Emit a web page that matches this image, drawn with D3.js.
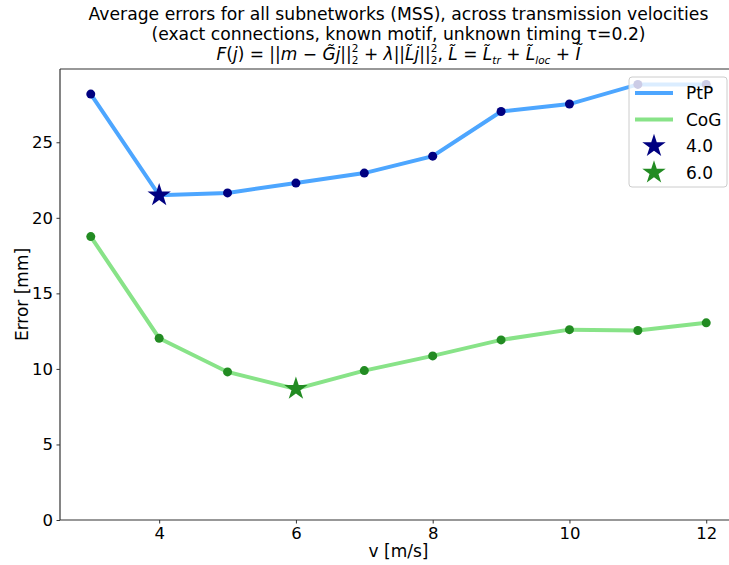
<!DOCTYPE html>
<html>
<head>
<meta charset="utf-8">
<script src="https://cdn.jsdelivr.net/npm/d3@7"></script>
<style>
  html, body { margin: 0; padding: 0; background: #fff; }
  svg { display: block; font-family: "DejaVu Sans", sans-serif; }
</style>
</head>
<body>
<svg id="chart" width="729" height="565"></svg>
<script>
// ---- data ----
const velocities = [3, 4, 5, 6, 7, 8, 9, 10, 11, 12];
const ptpErrors = [28.19, 21.49, 21.65, 22.30, 22.96, 24.08, 27.04, 27.53, 28.83, 28.83];
const cogErrors = [18.76, 12.03, 9.80, 8.68, 9.89, 10.86, 11.92, 12.60, 12.54, 13.05];
const bestPtP = { v: 4, err: 21.49, label: "4.0" };
const bestCoG = { v: 6, err: 8.68, label: "6.0" };
const xTicks = [4, 6, 8, 10, 12];
const yTicks = [0, 5, 10, 15, 20, 25];
const titleLines = [
  "Average errors for all subnetworks (MSS), across transmission velocities",
  "(exact connections, known motif, unknown timing τ=0.2)"
];

// ---- layout ----
const svg = d3.select("#chart");
const pLeft = 60, pRight = 737, pTop = 69, pBottom = 520;

const x = d3.scaleLinear().domain([2.55, 12.45]).range([pLeft, pRight]);
const y = d3.scaleLinear().domain([0, 29.85]).range([pBottom, pTop]);

const ptpLineColor = "#4da6ff", ptpMarker = "#000080";
const cogLineColor = "#88e388", cogMarker = "#228b22";

// axes
const xAxis = d3.axisBottom(x).tickValues(xTicks).tickSize(3.5).tickPadding(4).tickFormat(d3.format("d"));
const yAxis = d3.axisLeft(y).tickValues(yTicks).tickSize(3.5).tickPadding(3.5).tickFormat(d3.format("d"));

const gx = svg.append("g").attr("transform", `translate(0,${pBottom})`).call(xAxis);
const gy = svg.append("g").attr("transform", `translate(${pLeft},0)`).call(yAxis);
[gx, gy].forEach(g => {
  g.selectAll("text").attr("font-size", 16.5).attr("fill", "#000").attr("font-family", "DejaVu Sans");
  g.selectAll("line").attr("stroke", "#333").attr("stroke-width", 1);
  g.select(".domain").remove();
});
// spines
const spine = (x1, y1, x2, y2) => svg.append("line").attr("x1", x1).attr("y1", y1).attr("x2", x2).attr("y2", y2)
  .attr("stroke", "#333").attr("stroke-width", 1.2);
spine(pLeft, pTop, pLeft, pBottom);
spine(pLeft, pBottom, pRight, pBottom);
spine(pLeft, pTop, pRight, pTop);
spine(pRight, pTop, pRight, pBottom);

// axis labels
svg.append("text").attr("x", (pLeft + pRight) / 2).attr("y", 557).attr("text-anchor", "middle")
  .attr("font-size", 17).text("v [m/s]");
svg.append("text").attr("transform", `translate(27.5,${(pTop + pBottom) / 2}) rotate(-90)`).attr("text-anchor", "middle")
  .attr("font-size", 17).text("Error [mm]");

// title
const cx = (pLeft + pRight) / 2;
titleLines.forEach((t, i) => {
  svg.append("text").attr("x", cx).attr("y", 20 + i * 19.5).attr("text-anchor", "middle")
    .attr("font-size", 17.2).text(t);
});
// math line
const m = svg.append("text").attr("x", cx).attr("y", 60).attr("text-anchor", "middle").attr("font-size", 17);
const parts = [
  ["F", "i"], ["(", "n"], ["j", "i"], [")", "n"], [" =  ||", "n"], ["m", "i"], [" − ", "n"], ["G\u0303", "i"], ["j", "i"], ["||", "n"],
  ["2", "sup"], ["2", "sub"], [" + ", "n"], ["λ", "i"], ["||", "n"], ["L\u0303", "i"], ["j", "i"], ["||", "n"],
  ["2", "sup"], ["2", "sub"], [", ", "n"], ["L\u0303", "i"], [" = ", "n"], ["L\u0303", "i"], ["tr", "subi"], [" + ", "n"],
  ["L\u0303", "i"], ["loc", "subi"], [" + ", "n"], ["I\u0303", "i"]
];
let offset = 0; // current baseline offset relative to main baseline
parts.forEach(([s, k]) => {
  let target = 0;
  if (k === "sup") target = -8;
  else if (k === "sub") target = 4;
  else if (k === "subi") target = 4;
  const ts = m.append("tspan").text(s);
  if (target !== offset) ts.attr("dy", target - offset);
  offset = target;
  if (k === "sup" || k === "sub" || k === "subi") ts.attr("font-size", 10.5);
  if (k === "sub") ts.attr("dx", -6.7);
  if (k === "i" || k === "subi") ts.attr("font-style", "italic");
});

// lines
const line = d3.line().x((d, i) => x(velocities[i])).y(d => y(d));
svg.append("path").datum(ptpErrors).attr("d", line).attr("fill", "none").attr("stroke", ptpLineColor).attr("stroke-width", 4);
svg.append("path").datum(cogErrors).attr("d", line).attr("fill", "none").attr("stroke", cogLineColor).attr("stroke-width", 4);

// markers
svg.append("g").selectAll("circle").data(velocities.map((v, i) => [v, ptpErrors[i]]).filter(d => d[0] !== bestPtP.v))
  .join("circle").attr("cx", d => x(d[0])).attr("cy", d => y(d[1])).attr("r", 4.5).attr("fill", ptpMarker);
svg.append("g").selectAll("circle").data(velocities.map((v, i) => [v, cogErrors[i]]).filter(d => d[0] !== bestCoG.v))
  .join("circle").attr("cx", d => x(d[0])).attr("cy", d => y(d[1])).attr("r", 4.5).attr("fill", cogMarker);

const star = d3.symbol().type(d3.symbolStar);
svg.append("path").attr("d", star.size(170)()).attr("transform", `translate(${x(bestPtP.v)},${y(bestPtP.err)})`).attr("fill", ptpMarker);
svg.append("path").attr("d", star.size(170)()).attr("transform", `translate(${x(bestCoG.v)},${y(bestCoG.err)})`).attr("fill", cogMarker);

// legend
const lg = svg.append("g").attr("transform", "translate(629,77)");
lg.append("rect").attr("x", 0).attr("y", 0).attr("width", 98).attr("height", 110).attr("rx", 3)
  .attr("fill", "#fff").attr("fill-opacity", 0.8).attr("stroke", "#ccc").attr("stroke-width", 1);
const legendItems = [
  { label: "PtP", type: "line", color: ptpLineColor },
  { label: "CoG", type: "line", color: cogLineColor },
  { label: bestPtP.label, type: "star", color: ptpMarker },
  { label: bestCoG.label, type: "star", color: cogMarker }
];
legendItems.forEach((d, i) => {
  const yy = 16 + i * 26.5;
  if (d.type === "line") {
    lg.append("line").attr("x1", 6).attr("x2", 44).attr("y1", yy).attr("y2", yy).attr("stroke", d.color).attr("stroke-width", 4);
  } else {
    lg.append("path").attr("d", star.size(170)()).attr("transform", `translate(25,${yy})`).attr("fill", d.color);
  }
  lg.append("text").attr("x", 57).attr("y", yy + 6).attr("font-size", 17).text(d.label);
});
</script>
</body>
</html>
